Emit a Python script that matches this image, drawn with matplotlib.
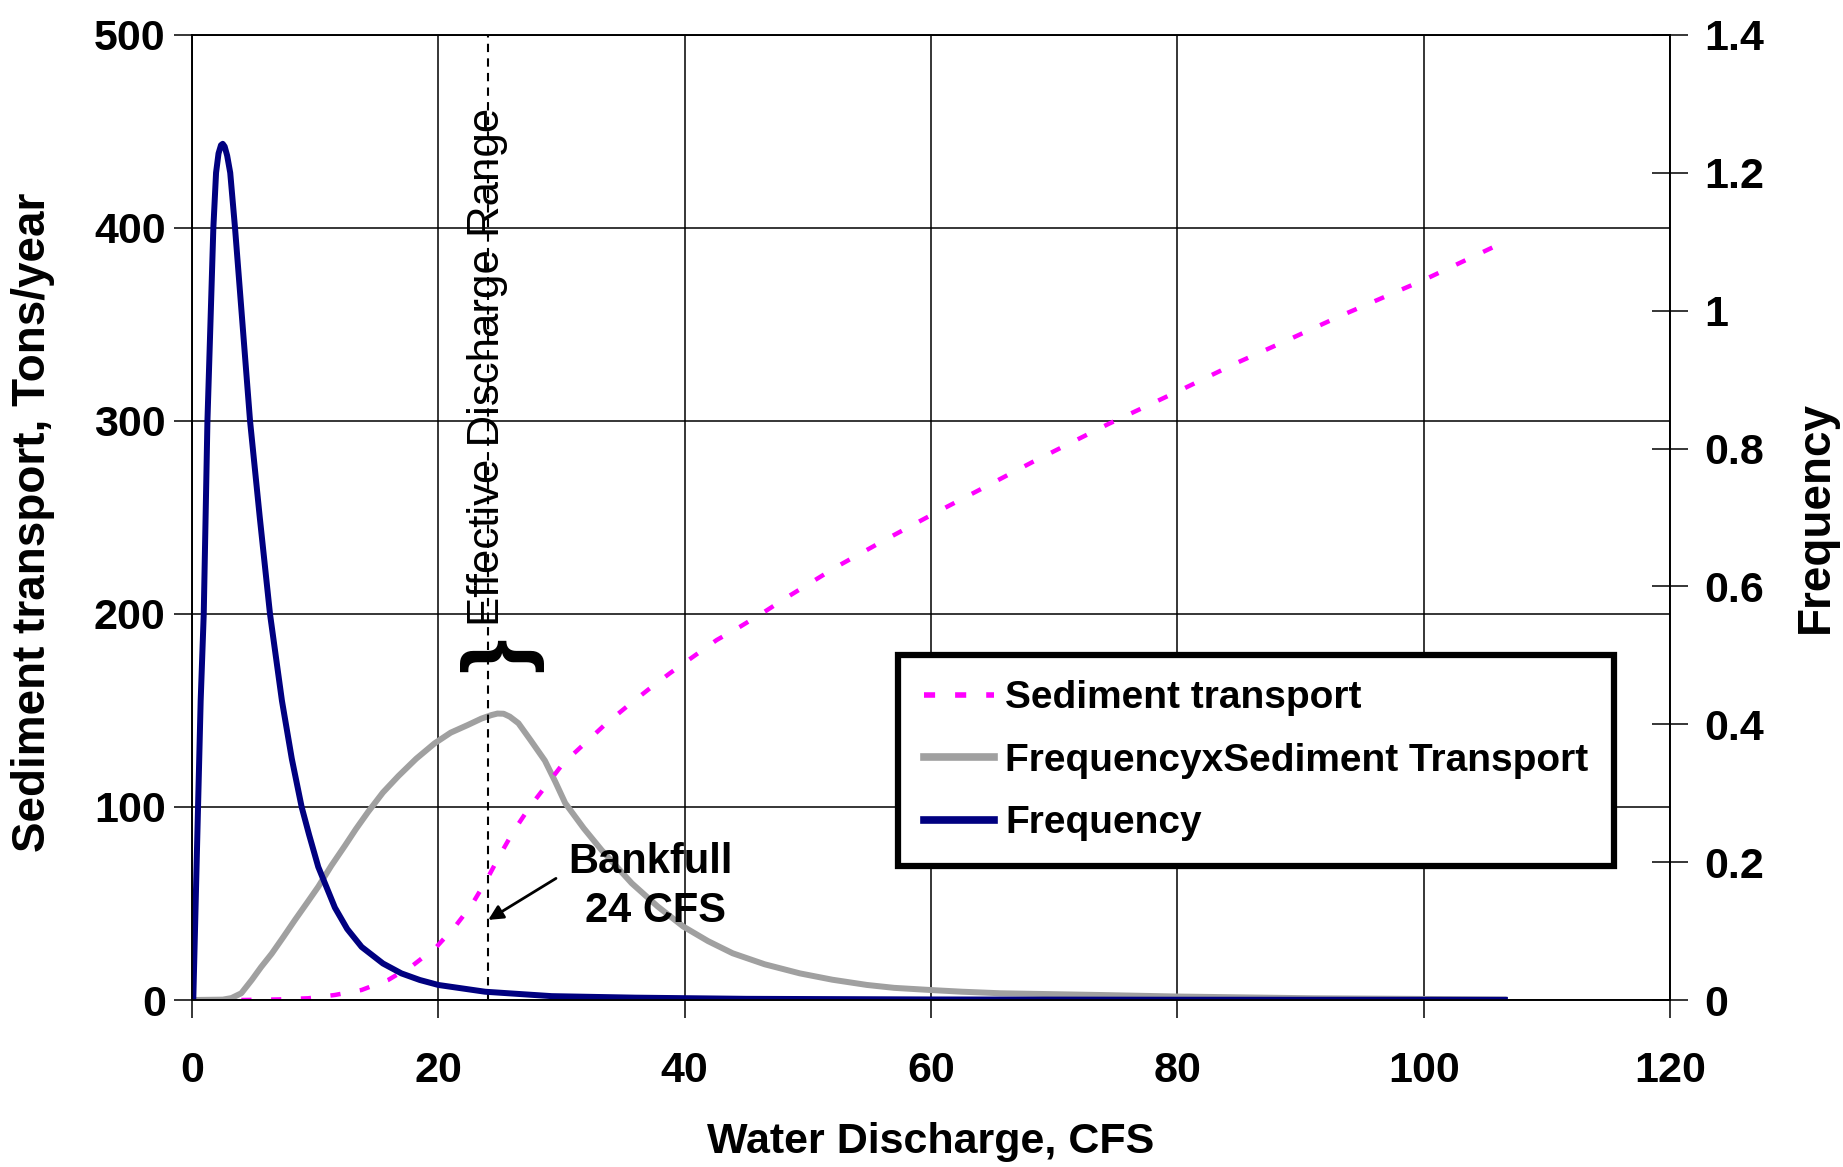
#!/usr/bin/env python3
"""
Effective discharge chart: sediment transport, frequency and their product
"""

import matplotlib
matplotlib.use('Agg')
import matplotlib.pyplot as plt
from matplotlib.lines import Line2D
from matplotlib.ticker import FuncFormatter

# Sediment transport rating (Tons/year) vs water discharge (CFS)
sed_q = [4.0, 7.0, 9.44, 11.6, 13.77, 15.93, 17.96, 19.86, 21.35, 22.7, 23.92, 25.0,
         26.08, 27.44, 28.79, 30.14, 31.9, 33.5, 35.3, 37.0, 38.8, 40.7, 42.6, 44.5,
         46.5, 48.4, 52.35, 56.3, 60.3, 64.3, 68.3, 74.4, 80.6, 84.8, 89.0, 93.1,
         100.0, 106.3]
sed_t = [0, 0.3, 0.9, 2.6, 5.2, 10.4, 18.1, 27.6, 38, 49.2, 62.2, 75.1,
         87.2, 100.2, 111.4, 122.6, 133, 142.5, 152, 160.6, 169.3, 177.9, 186.5, 193.4,
         201.2, 209, 224.5, 238.5, 252.2, 265.5, 278.9, 298.4, 317, 330, 342, 354,
         373, 392]

# Frequency x sediment transport (Tons/year)
fxs_q = [0, 2.5, 3.2, 4.0, 4.85, 5.6, 6.47, 7.4, 8.36, 9.3, 10.25, 11.3, 12.42, 13.3,
         14.3, 15.5, 16.75, 18.2, 19.7, 21.0, 22.4, 23.5, 24.3, 24.8, 25.3, 25.8,
         26.5, 27.5, 28.65, 29.5, 30.3, 31.8, 33.25, 35.7, 37.8, 39.9, 41.9, 43.9,
         46.5, 49.35, 52.0, 54.8, 57.0, 59.9, 62.5, 65.6, 73.7, 80.0, 91.0, 106.5]
fxs_t = [0, 0.2, 1.0, 3.5, 10.4, 17, 24, 32.5, 41.5, 50, 58.7, 69.5, 80, 88.5,
         97.5, 107.5, 116, 125, 133, 138.5, 142.5, 145.8, 147.6, 148.4, 148.3, 146.8,
         143.4, 134.5, 124, 113, 102, 89, 77.7, 60.5, 48.5, 38, 30.5, 24.2,
         18.5, 13.8, 10.5, 7.8, 6.3, 5.2, 4.3, 3.5, 2.6, 1.8, 0.9, 0.3]

# Flow frequency (right axis)
freq_q = [0, 0.1, 0.4, 0.7, 0.95, 1.25, 1.5, 1.73, 1.95, 2.15, 2.35, 2.49, 2.65, 2.85,
          3.1, 3.49, 4.1, 4.71, 5.5, 6.33, 7.3, 8.1, 8.9, 9.5, 10.25, 11.6, 12.6,
          13.77, 15.5, 17.0, 18.5, 20.0, 23.8, 29.2, 36.0, 45.0, 60.0, 80.0, 106.6]
freq_f = [0, 0.0, 0.217, 0.434, 0.56, 0.84, 0.985, 1.12, 1.20, 1.228, 1.240, 1.242, 1.238, 1.225,
          1.20, 1.12, 0.98, 0.84, 0.70, 0.56, 0.434, 0.35, 0.28, 0.24, 0.193, 0.134, 0.103,
          0.077, 0.053, 0.0386, 0.029, 0.0218, 0.012, 0.0056, 0.0034, 0.0017, 0.0008, 0.0004, 0.0002]

x_ticks = [0, 20, 40, 60, 80, 100, 120]
y_ticks = [0, 100, 200, 300, 400, 500]
f_ticks = [0, 0.2, 0.4, 0.6, 0.8, 1.0, 1.2, 1.4]

bankfull_q = 24

plt.rcParams['font.family'] = ['Liberation Sans', 'DejaVu Sans']
plt.rcParams['font.weight'] = 'bold'
plt.rcParams['axes.labelweight'] = 'bold'

fig = plt.figure(figsize=(18.43, 11.67), dpi=100)
ax = fig.add_axes([0.1042, 0.1431, 0.8019, 0.8270])

# 左轴: 泥沙输移曲线
ax.plot(fxs_q, fxs_t, color='#a0a0a0', linewidth=4.3, solid_joinstyle='round')
ax.plot(sed_q, sed_t, color='#ff00ff', linewidth=3.2, linestyle=(0, (2.3, 4.4)))

ax.set_xlim(0, 120)
ax.set_ylim(0, 500)
ax.set_xticks(x_ticks)
ax.set_yticks(y_ticks)
ax.grid(True, color='black', linewidth=1.1)
for s in ax.spines.values():
    s.set_linewidth(1.2)
ax.tick_params(axis='y', direction='out', length=13, width=1.1, pad=6, labelsize=31)
ax.tick_params(axis='x', direction='out', length=13, width=1.1, pad=24, labelsize=31)

ax.set_xlabel('Water Discharge, CFS', fontsize=31, va='center')
ax.xaxis.set_label_coords(0.5, -0.147)
ax.set_ylabel('Sediment transport, Tons/year', fontsize=33, va='center', ha='center')
ax.yaxis.set_label_coords(-0.1076, 0.495)

# 右轴: 频率
ax2 = ax.twinx()
ax2.plot(freq_q, freq_f, color='#000080', linewidth=4.3, solid_joinstyle='round')
ax2.set_ylim(0, 1.4)
ax2.set_yticks(f_ticks)
ax2.yaxis.set_major_formatter(FuncFormatter(lambda v, p: f'{v:g}'))
ax2.tick_params(axis='y', direction='inout', length=26, width=1.1, pad=12, labelsize=31)
ax2.set_ylabel('Frequency', fontsize=33, va='center', ha='center')
ax2.yaxis.set_label_coords(1.0988, 0.5)
for s in ax2.spines.values():
    s.set_linewidth(1.2)

# Bankfull 标注
ax.axvline(bankfull_q, color='black', linewidth=1.5, linestyle=(0, (4, 3)))
ax.text(24.0, 328, 'Effective Discharge Range', rotation=90, ha='center', va='center',
        fontsize=31.5, fontweight='normal')
ax.text(25.1, 179, '}', rotation=90, ha='center', va='center', fontsize=64, fontweight='bold')
ax.text(37.2, 65.8, 'Bankfull', ha='center', va='baseline', fontsize=30)
ax.text(37.6, 40.4, '24 CFS', ha='center', va='baseline', fontsize=30)
ax.annotate('', xy=(24.05, 41.5), xytext=(29.55, 63),
            arrowprops=dict(arrowstyle='-|>', color='black', lw=2, mutation_scale=22,
                            shrinkA=0, shrinkB=0))

# 图例
handles = [
    Line2D([], [], color='#ff00ff', linewidth=4, linestyle=(0, (2.0, 3.6))),
    Line2D([], [], color='#a0a0a0', linewidth=5.5),
    Line2D([], [], color='#000080', linewidth=5.5),
]
labels = ['Sediment transport', 'FrequencyxSediment Transport', 'Frequency']
leg = ax2.legend(handles, labels, loc='upper left', bbox_to_anchor=(0.478, 0.3575),
                 fontsize=28, frameon=True, fancybox=False, edgecolor='black',
                 framealpha=1, borderpad=0.65, handlelength=1.8, handletextpad=0.3,
                 labelspacing=0.68, borderaxespad=0)
leg.get_frame().set_linewidth(4.5)

fig.savefig('out.png', dpi=100)
